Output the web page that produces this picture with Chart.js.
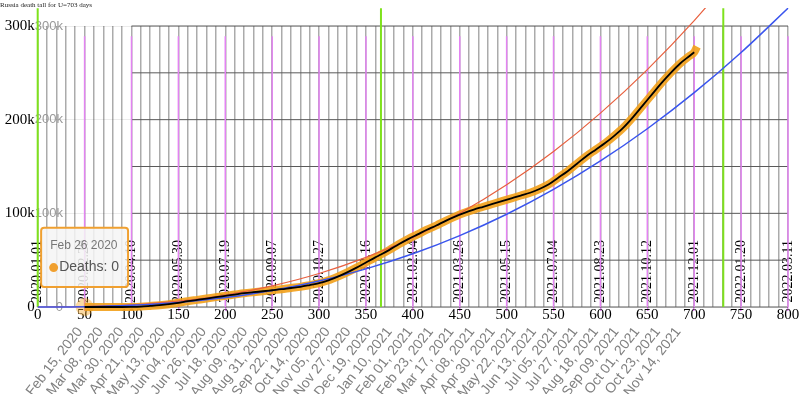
<!DOCTYPE html>
<html><head><meta charset="utf-8">
<script src="https://cdn.jsdelivr.net/npm/chart.js@4.4.1/dist/chart.umd.min.js"></script>
<style>html,body{margin:0;padding:0;background:#fff;}#wrap{width:800px;height:394px;}</style>
</head><body><div id="wrap"><canvas id="c" width="800" height="394"></canvas></div>
<script>
const titleText = 'Russia death tall for U=703 days';
const hoverLabel = 'Feb 26 2020';
const seriesName = 'Deaths';

// cumulative deaths (day index from 2020-01-01)
const deathDays = [50,60,70,80,90,100,110,120,130,140,150,160,170,180,190,200,210,220,230,240,250,260,270,280,290,300,310,320,330,340,350,360,366,375,385,395,405,415,425,435,445,455,465,475,485,495,505,515,525,535,545,555,565,575,585,595,605,615,625,635,645,655,665,675,685,695,700,703];
const deathValues = [0,0,0,0,0,100,400,1100,1900,3000,4500,6200,7600,9000,10500,11900,13300,14700,15800,16800,17900,19000,20300,21500,23400,25500,28500,32500,37000,42000,47500,53000,56000,61000,67000,72500,77500,82500,87000,92000,96500,100500,104000,107000,110000,113000,116000,119000,122000,126000,131000,138000,145000,153000,161000,168000,175000,183000,192000,203000,215000,227000,239000,250000,260000,268000,272000,278000];
const blackLastDay = 700;

const blueDays = [0,50,100,150,200,250,300,350,400,450,500,550,600,650,700,750,800];
const blueValues = [0,300,1800,4900,10100,17600,27800,40700,56800,76200,99000,125500,155900,190300,228800,271700,319000];

const redDays = [0,50,100,150,200,250,300,350,400,450,500,550,600,650,700,750];
const redValues = [0,400,2200,6200,12800,22600,35800,53000,74200,100000,130500,166000,207000,253500,305800,364000];

const yearStartDays = [0, 366, 731];
const markDays = [50,100,150,200,250,300,350,400,450,500,550,600,650,700,750,800];
const levelValues = [0,50000,100000,150000,200000,250000,300000];
const levelStartDay = 100;
const levelEndDay = 800;
const greenTop = 319000;
const markTop = 289000;

const xGridStep = 10;
const xLabelValues = [0,50,100,150,200,250,300,350,400,450,500,550,600,650,700,750,800];
const dateTickDays = [45,67,89,111,133,155,177,199,221,243,265,287,309,331,353,375,397,419,441,463,485,507,529,551,573,595,617,639,661,683];
const dateTickLabels = ['Feb 15, 2020','Mar 08, 2020','Mar 30, 2020','Apr 21, 2020','May 13, 2020','Jun 04, 2020','Jun 26, 2020','Jul 18, 2020','Aug 09, 2020','Aug 31, 2020','Sep 22, 2020','Oct 14, 2020','Nov 05, 2020','Nov 27, 2020','Dec 19, 2020','Jan 10, 2021','Feb 01, 2021','Feb 23, 2021','Mar 17, 2021','Apr 08, 2021','Apr 30, 2021','May 22, 2021','Jun 13, 2021','Jul 05, 2021','Jul 27, 2021','Aug 18, 2021','Sep 09, 2021','Oct 01, 2021','Oct 23, 2021','Nov 14, 2021'];
const vertTickDays = [0,50,100,150,200,250,300,350,400,450,500,550,600,650,700,750,800];
const vertTickLabels = ['2020.01.01','2020.02.20','2020.04.10','2020.05.30','2020.07.19','2020.09.07','2020.10.27','2020.12.16','2021.02.04','2021.03.26','2021.05.15','2021.07.04','2021.08.23','2021.10.12','2021.12.01','2022.01.20','2022.03.11'];
const yTickValues = [0,100000,200000,300000];
const yTickLabels = ['0','100k','200k','300k'];

const MAGENTA = '#e383f2';
const ORANGE = 'rgba(242,160,25,0.9)';
const clipBox = {left: 10, top: 18, right: 10, bottom: 12};

const pts = (xs, ys) => xs.map((x, i) => ({x: x, y: ys[i]}));
const deathPts = pts(deathDays, deathValues);
const blackPts = deathPts.filter(p => p.x <= blackLastDay);
const vSegs = (days, top) => days.flatMap(d => [{x: d, y: 0}, {x: d, y: top}, {x: d, y: null}]);
const hSegs = levelValues.flatMap(v => [{x: levelStartDay, y: v}, {x: levelEndDay, y: v}, {x: levelEndDay, y: null}]);
const gridTicks = [];
for (let v = 0; v <= 800; v += xGridStep) gridTicks.push(v);

const common = {pointRadius: 0, pointHoverRadius: 0, clip: clipBox, spanGaps: false, fill: false};

const data = {
  datasets: [
    Object.assign({}, common, {label: 'black', data: blackPts, borderColor: '#000', borderWidth: 1.8, order: 0, cubicInterpolationMode: 'monotone'}),
    Object.assign({}, common, {label: 'blue', data: pts(blueDays, blueValues), borderColor: '#3a55ee', borderWidth: 1.5, order: 1, cubicInterpolationMode: 'monotone'}),
    Object.assign({}, common, {label: 'red', data: pts(redDays, redValues), borderColor: '#e8603f', borderWidth: 1.2, order: 2, cubicInterpolationMode: 'monotone'}),
    Object.assign({}, common, {label: seriesName, data: deathPts, borderColor: ORANGE, backgroundColor: ORANGE, borderWidth: 8, order: 3, cubicInterpolationMode: 'monotone',
      borderJoinStyle: 'round', pointBackgroundColor: ORANGE, pointBorderColor: ORANGE,
      pointHoverRadius: 9, pointHoverBackgroundColor: 'rgba(242,160,25,0.4)', pointHoverBorderColor: 'rgba(242,160,25,0.4)', pointHoverBorderWidth: 0}),
    Object.assign({}, common, {label: 'years', data: vSegs(yearStartDays, greenTop), borderColor: '#7ee21c', borderWidth: 2, order: 4}),
    Object.assign({}, common, {label: 'marks', data: vSegs(markDays, markTop), borderColor: MAGENTA, borderWidth: 1.5, order: 5}),
    Object.assign({}, common, {label: 'levels', data: hSegs, borderColor: '#5a5a5a', borderWidth: 1, order: 6})
  ]
};

const serif = 'Liberation Serif';
const sans = 'Liberation Sans';

const chart = new Chart(document.getElementById('c'), {
  type: 'line',
  data: data,
  options: {
    responsive: false,
    animation: false,
    events: [],
    layout: {padding: {left: 0, right: 12, top: 0, bottom: 0}},
    plugins: {
      legend: {display: false},
      title: {display: true, text: titleText, align: 'start', color: '#222',
        font: {family: serif, size: 7, weight: 'normal'}, padding: {top: 1, bottom: 16.6}},
      tooltip: {
        enabled: true, animation: false, yAlign: 'bottom', xAlign: 'center', caretSize: 0, caretPadding: 20,
        backgroundColor: 'rgba(244,244,244,0.85)', borderColor: '#f0a030', borderWidth: 2, cornerRadius: 3,
        titleColor: '#777', bodyColor: '#555',
        titleFont: {family: sans, size: 12, weight: 'normal'}, bodyFont: {family: sans, size: 14},
        padding: {top: 11, bottom: 11, left: 9, right: 9}, titleMarginBottom: 6,
        usePointStyle: true, boxWidth: 7, boxHeight: 7, displayColors: true,
        callbacks: {
          title: () => hoverLabel,
          labelColor: () => ({borderColor: '#f0a030', backgroundColor: '#f0a030'}),
          labelPointStyle: () => ({pointStyle: 'circle', rotation: 0})
        }
      }
    },
    scales: {
      x: {
        type: 'linear', min: 0, max: 800, position: 'bottom', weight: 0,
        afterBuildTicks: s => { s.ticks = gridTicks.map(v => ({value: v})); },
        afterFit: s => { s.height = 17; },
        ticks: {autoSkip: false, minRotation: 0, maxRotation: 0, padding: -5, color: '#000',
          font: {family: serif, size: 15},
          callback: v => xLabelValues.includes(v) ? String(v) : ''},
        grid: {color: '#ababab', lineWidth: 1.5, drawTicks: true, tickLength: 4,
          tickColor: c => (c.tick && markDays.includes(c.tick.value)) ? MAGENTA : 'rgba(0,0,0,0)'},
        border: {display: false}
      },
      xd: {
        type: 'linear', axis: 'x', min: 0, max: 800, position: 'bottom', weight: 1,
        afterBuildTicks: s => { s.ticks = dateTickDays.map(v => ({value: v})); },
        afterFit: s => { s.height = 70; },
        ticks: {autoSkip: false, minRotation: 52, maxRotation: 52, padding: 0, color: '#808080',
          font: {family: sans, size: 14}, callback: (v, i) => dateTickLabels[i]},
        grid: {display: false, drawTicks: false},
        border: {display: false}
      },
      xv: {
        type: 'linear', axis: 'x', min: 0, max: 800, position: {y: 0},
        afterBuildTicks: s => { s.ticks = vertTickDays.map(v => ({value: v})); },
        ticks: {autoSkip: false, minRotation: 90, maxRotation: 90, padding: -67, color: '#000',
          font: {family: serif, size: 14}, callback: (v, i) => vertTickLabels[i]},
        grid: {display: false, drawTicks: false},
        border: {display: false}
      },
      y: {
        type: 'linear', min: 0, max: 300000, position: 'left',
        afterBuildTicks: s => { s.ticks = yTickValues.map(v => ({value: v})); },
        afterFit: s => { s.width = 37.7; },
        ticks: {color: '#000', padding: 3, font: {family: serif, size: 15}, callback: (v, i) => yTickLabels[i]},
        grid: {display: false, drawTicks: false},
        border: {display: false}
      },
      y2: {
        type: 'linear', axis: 'y', min: 0, max: 300000, position: {x: 27},
        afterBuildTicks: s => { s.ticks = yTickValues.map(v => ({value: v})); },
        ticks: {color: '#999', padding: 0, font: {family: sans, size: 13}, callback: (v, i) => yTickLabels[i]},
        grid: {color: 'rgba(0,0,0,0.08)', drawTicks: false},
        border: {display: false}
      }
    }
  }
});

const orangeIndex = 3;
const active = [{datasetIndex: orangeIndex, index: 0}];
chart.setActiveElements(active);
chart.tooltip.setActiveElements(active, {x: 0, y: 0});
chart.update();
</script></body></html>
